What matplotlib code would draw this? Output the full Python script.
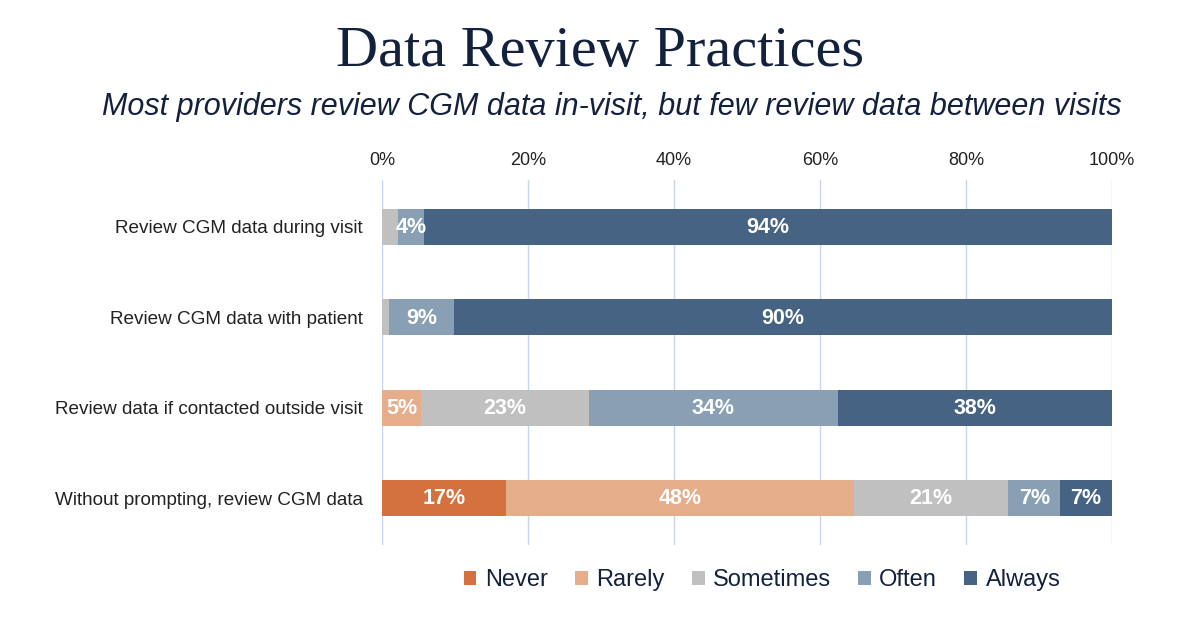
import numpy as np
import matplotlib.pyplot as plt

# survey answers per question, in percent of providers
questions = ["Review CGM data during visit",
             "Review CGM data with patient",
             "Review data if contacted outside visit",
             "Without prompting, review CGM data"]
answers = ["Never", "Rarely", "Sometimes", "Often", "Always"]
never = [0.0, 0.0, 0.0, 17.0]
rarely = [0.0, 0.0, 5.4, 47.6]
sometimes = [2.2, 1.0, 22.9, 21.2]
often = [3.6, 8.9, 34.1, 7.1]
always = [94.2, 90.1, 37.6, 7.1]
ticks = [0, 20, 40, 60, 80, 100]

colors = ["#D5703F", "#E6AD8B", "#C0C0C0", "#889FB4", "#466383"]
navy = "#14213D"

fig = plt.figure(figsize=(12, 6.24), dpi=100)
ax = fig.add_axes([382/1200, 1 - 545/624, 730/1200, 365/624])

y = np.arange(len(questions))
left = np.zeros(len(questions))
for name, vals, c in zip(answers, [never, rarely, sometimes, often, always], colors):
    vals = np.array(vals)
    ax.barh(y, vals, left=left, height=0.4, color=c, label=name, zorder=3)
    for yi, v, l in zip(y, vals, left):
        if v >= 3:
            ax.text(l + v / 2, yi + 0.01, f"{v:.0f}%", ha="center", va="center",
                    color="white", fontsize=15.5, fontweight="bold",
                    family="Liberation Sans", zorder=4)
    left += vals

ax.set_xlim(0, 100)
ax.set_ylim(3.52, -0.52)
ax.set_xticks(ticks)
ax.set_xticklabels([f"{t}%" for t in ticks], family="Liberation Sans",
                   fontsize=13, color="#222222")
ax.xaxis.tick_top()
ax.tick_params(axis="x", length=0, pad=8)
ax.set_yticks(y)
ax.set_yticklabels(questions, family="Liberation Sans", fontsize=13.6, color="#222222")
ax.tick_params(axis="y", length=0, pad=14)
ax.grid(axis="x", color="#C8D4F0", linewidth=1, zorder=0)
for s in ax.spines.values():
    s.set_visible(False)

fig.text(0.5, 1 - 52/624, "Data Review Practices", ha="center", va="center",
         family="Liberation Serif", fontsize=42, color=navy)
fig.text(0.51, 1 - 107/624,
         "Most providers review CGM data in-visit, but few review data between visits",
         ha="center", va="center", family="Liberation Sans", style="italic",
         fontsize=22, color=navy)

leg = fig.legend(loc="center", bbox_to_anchor=(762/1200, 1 - 580/624), ncol=5,
                 frameon=False, handlelength=0.55, handleheight=0.55,
                 handletextpad=0.35, columnspacing=1.15,
                 prop={"family": "Liberation Sans", "size": 17})
for t in leg.get_texts():
    t.set_color(navy)

fig.savefig("out.png", dpi=100)
